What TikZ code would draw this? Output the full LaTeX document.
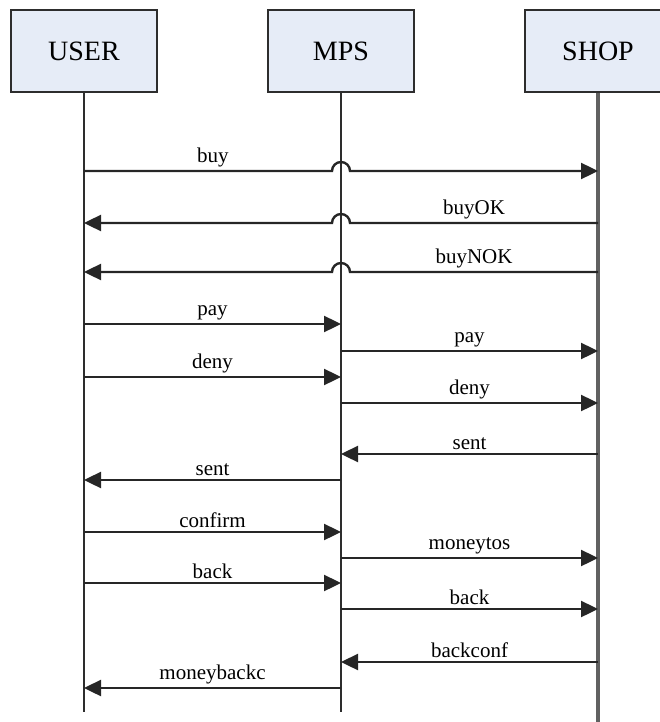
\documentclass[tikz,border=0pt]{standalone}
\usepackage{fontspec}
\setmainfont{Liberation Serif}
\usetikzlibrary{arrows.meta, positioning}
\definecolor{boxColor}{RGB}{230,236,247}
\definecolor{lineColor}{RGB}{45,45,45}

\begin{document}
\begin{tikzpicture}[
        x=1pt, y=-1pt,
        actor/.style={rectangle, draw=lineColor, line width=2.5pt, fill=boxColor, minimum width=146pt, minimum height=82pt, font=\fontsize{28}{30}\selectfont},
        lifeline/.style={line width=2.2pt, draw=lineColor},
        msg/.style={-{Triangle[length=17pt, width=16pt]}, line width=2.4pt, draw=black!85},
        lbl/.style={above, inner sep=3pt, font=\fontsize{21}{24}\selectfont}
    ]
        \useasboundingbox (0,0) rectangle (660,722);

        % Actors
        \node[actor] (user) at (84,51) {USER};
        \node[actor] (mps) at (341,51) {MPS};
        \node[actor] (shop) at (598,51) {SHOP};

        % Lifelines
        \coordinate (userEnd) at (user.south |- 0,712);
        \coordinate (mpsEnd) at (mps.south |- 0,712);
        \coordinate (shopEnd) at (shop.south |- 0,724);
        \draw[lifeline] (user) -- (userEnd);
        \draw[lifeline] (mps) -- (mpsEnd);
        \draw[lifeline, line width=3.2pt, draw=lineColor!75] (shop) -- (shopEnd);

        % Messages jumping over the MPS lifeline
        \draw[msg] (user.south |- 0,171) -- node[lbl, pos=0.52] {buy} ++(248,0)
            arc[start angle=180, end angle=360, radius=9] -- (shop.south |- 0,171);
        \draw[msg] (shop.south |- 0,223) -- node[lbl] {buyOK} ++(-248,0)
            arc[start angle=0, end angle=-180, radius=9] -- (user.south |- 0,223);
        \draw[msg] (shop.south |- 0,272) -- node[lbl] {buyNOK} ++(-248,0)
            arc[start angle=0, end angle=-180, radius=9] -- (user.south |- 0,272);

        % Messages between neighbours
        \foreach \y/\from/\to/\txt in {324/user/mps/pay, 351/mps/shop/pay, 377/user/mps/deny, 403/mps/shop/deny,
                454/shop/mps/sent, 480/mps/user/sent, 532/user/mps/confirm, 558/mps/shop/moneytos,
                583/user/mps/back, 609/mps/shop/back, 662/shop/mps/backconf, 688/mps/user/moneybackc}
            \draw[msg] (\from.south |- 0,\y) -- node[lbl] {\txt} (\to.south |- 0,\y);
    \end{tikzpicture}
\end{document}
